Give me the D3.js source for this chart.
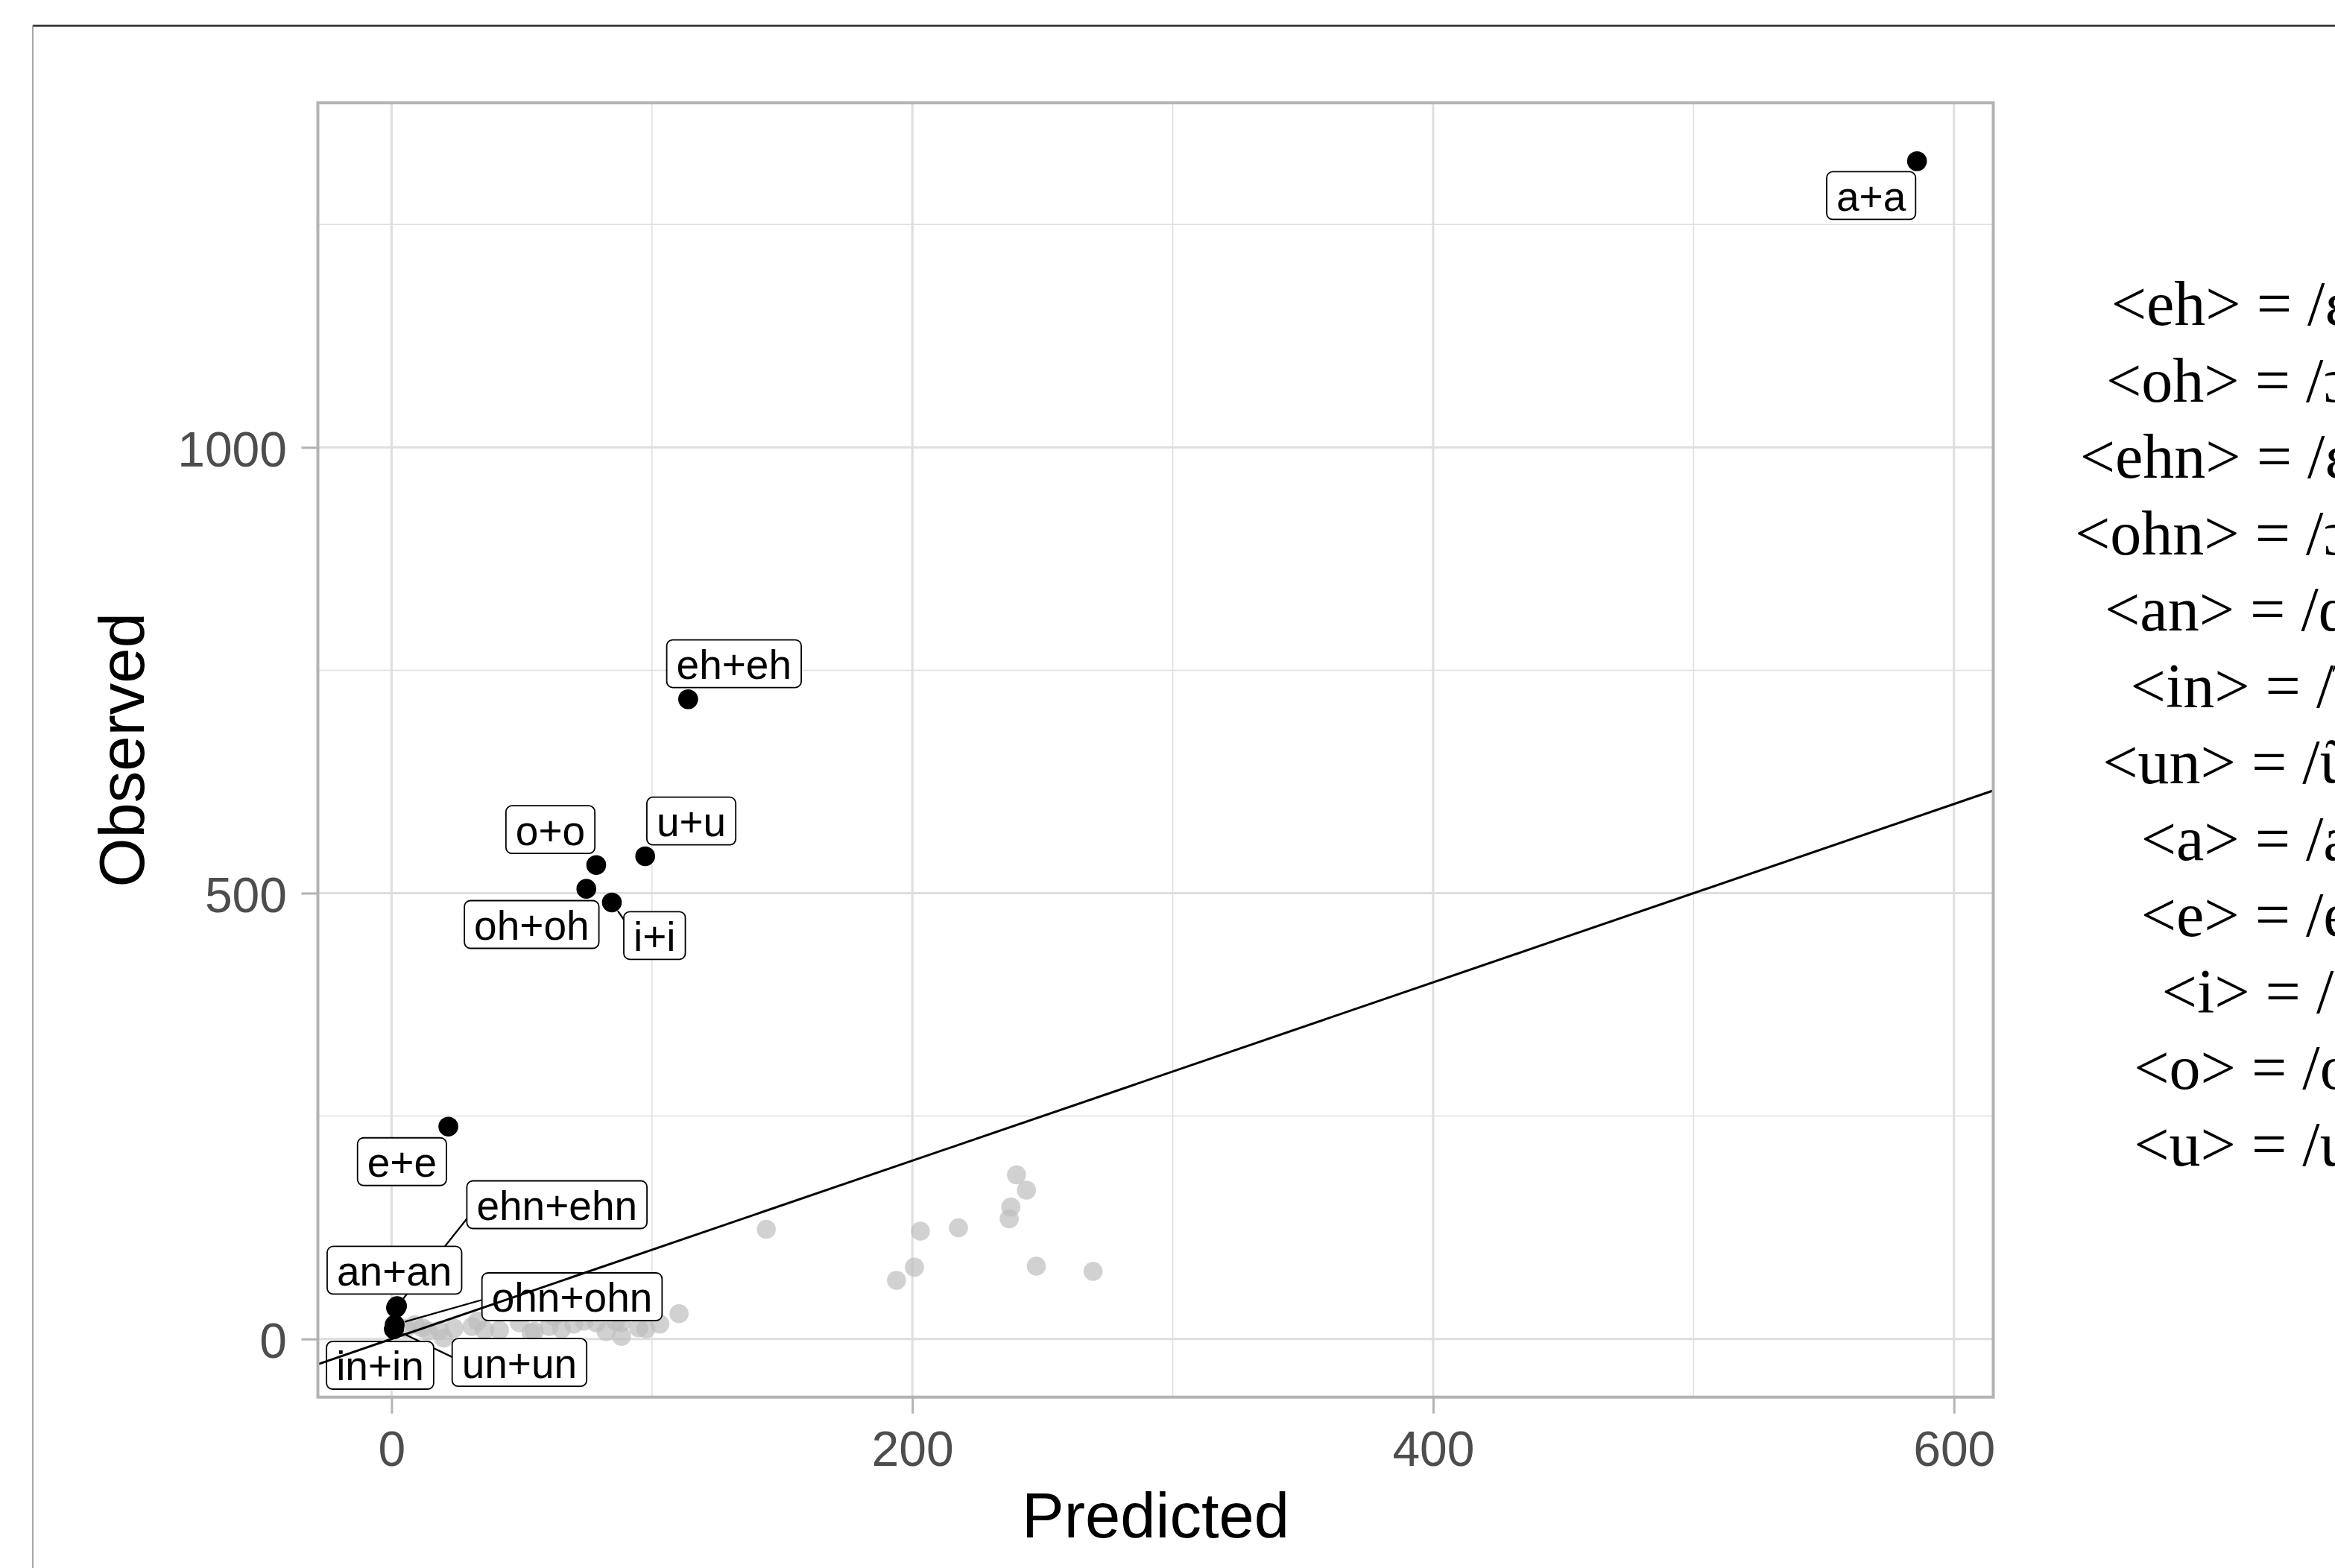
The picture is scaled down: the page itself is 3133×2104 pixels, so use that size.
<!DOCTYPE html>
<html><head><meta charset="utf-8">
<script src="https://cdn.jsdelivr.net/npm/d3@7"></script>
<style>body{margin:0;background:#fff;} svg{display:block}</style>
</head><body><svg id="chart" width="3133" height="2104"></svg>
<script>
// ---------- data ----------
const greyPredicted = [5.5, 9, 11.8, 14, 18.5, 20, 24, 30.9, 33, 35.7, 41.4, 49.1, 53.6, 54.8, 60.5, 62.4, 65.3, 70, 74, 78.6, 82.4, 86, 88.3, 88.2, 94.9, 97.7, 103, 110.4,
  143.9, 193.9, 200.8, 203.1, 217.7, 237.2, 237.8, 240, 243.8, 247.6, 269.4];
const greyObserved = [12, 16, 12.5, 9, 9.8, 1, 12, 14, 20, 9.8, 9.8, 18.1, 7, 8.4, 14, 25, 11.2, 16.7, 20, 18.1, 8.4, 20, 3, 18.1, 12.5, 11.2, 16.7, 28.4,
  123, 65.8, 80.5, 121, 124.7, 134.8, 148, 184.1, 166.9, 81.7, 75.8];

const labelNames     = ["a+a", "eh+eh", "u+u", "o+o", "oh+oh", "i+i", "e+e", "ehn+ehn", "an+an", "ohn+ohn", "in+in", "un+un"];
const labelPredicted = [585.8, 113.9, 97.4, 78.6, 74.8, 84.6, 21.8, 1.7, 2.1, 1.2, 1.0, 0.9];
const labelObserved  = [1321, 717.5, 541.4, 531.6, 504.9, 489.6, 238.2, 35, 37, 16, 12, 11];
// repelled label placement (data units)
const labelAtPredicted = [568.2, 131.5, 115.1, 61.0, 53.8, 101.0, 4.0, 63.5, 1.1, 69.3, -4.4, 49.1];
const labelAtObserved  = [1282.4, 757.4, 580.9, 571.3, 464.9, 452.5, 198.9, 150.6, 77.1, 47.4, -29.5, -26.3];

const xTicks = [0, 200, 400, 600];
const xMinor = [100, 300, 500];
const yTicks = [0, 500, 1000];
const yMinor = [250, 750, 1250];

const keyLines = ["<eh> = /ɛ/", "<oh> = /ɔ/", "<ehn> = /ɛ̃/", "<ohn> = /ɔ̃/", "<an> = /ɑ̃/", "<in> = /ĩ/",
  "<un> = /ũ/", "<a> = /a/", "<e> = /e/", "<i> = /i/", "<o> = /o/", "<u> = /u/"];

// ---------- layout ----------
const W = 3133, H = 2104;
const P = {l: 426.5, r: 2674.5, t: 138, b: 1874.7};
const sans = "'Liberation Sans', Arimo, Arial, Helvetica, sans-serif";
const serif = "'Liberation Serif', 'Times New Roman', Times, serif";

const x = d3.scaleLinear().domain([-28.3, 615.1]).range([P.l, P.r]);
const y = d3.scaleLinear().domain([-65.2, 1386.4]).range([P.b, P.t]);

const svg = d3.select("#chart");
svg.append("rect").attr("width", W).attr("height", H).attr("fill", "#fff");

// outer frame
svg.append("line").attr("x1", 44).attr("x2", W).attr("y1", 34.5).attr("y2", 34.5)
  .attr("stroke", "#2a2a2a").attr("stroke-width", 2.5);
svg.append("line").attr("x1", 44).attr("x2", 44).attr("y1", 34).attr("y2", H)
  .attr("stroke", "#8a8a8a").attr("stroke-width", 1.5);

svg.append("defs").append("clipPath").attr("id", "pc").append("rect")
  .attr("x", P.l).attr("y", P.t).attr("width", P.r - P.l).attr("height", P.b - P.t);

// grid
const grid = svg.append("g").attr("clip-path", "url(#pc)");
grid.selectAll(".vmin").data(xMinor).join("line")
  .attr("x1", d => x(d)).attr("x2", d => x(d)).attr("y1", P.t).attr("y2", P.b)
  .attr("stroke", "#dedede").attr("stroke-width", 1.5);
grid.selectAll(".hmin").data(yMinor).join("line")
  .attr("y1", d => y(d)).attr("y2", d => y(d)).attr("x1", P.l).attr("x2", P.r)
  .attr("stroke", "#dedede").attr("stroke-width", 1.5);
grid.selectAll(".vmaj").data(xTicks).join("line")
  .attr("x1", d => x(d)).attr("x2", d => x(d)).attr("y1", P.t).attr("y2", P.b)
  .attr("stroke", "#dedede").attr("stroke-width", 3);
grid.selectAll(".hmaj").data(yTicks).join("line")
  .attr("y1", d => y(d)).attr("y2", d => y(d)).attr("x1", P.l).attr("x2", P.r)
  .attr("stroke", "#dedede").attr("stroke-width", 3);

// points
const pts = svg.append("g").attr("clip-path", "url(#pc)");
pts.selectAll(".g").data(greyPredicted.map((v, i) => [v, greyObserved[i]])).join("circle")
  .attr("cx", d => x(d[0])).attr("cy", d => y(d[1])).attr("r", 12.8)
  .attr("fill", "#bebebe").attr("fill-opacity", 0.7);
pts.selectAll(".b").data(labelPredicted.map((v, i) => [v, labelObserved[i]])).join("circle")
  .attr("cx", d => x(d[0])).attr("cy", d => y(d[1])).attr("r", 13.3)
  .attr("fill", "#000");

// labels
const segG = svg.append("g");
const boxG = svg.append("g");
labelNames.forEach((name, i) => {
  const px = x(labelPredicted[i]), py = y(labelObserved[i]);
  const cx = x(labelAtPredicted[i]), cy = y(labelAtObserved[i]);
  const g = boxG.append("g");
  const rect = g.append("rect");
  const t = g.append("text").attr("x", cx).attr("y", cy + 20.5)
    .attr("text-anchor", "middle").attr("font-family", sans).attr("font-size", 55)
    .attr("fill", "#000").text(name);
  const tw = t.node().getComputedTextLength();
  const w = tw + 26, h = 64;
  const x0 = cx - w / 2, x1 = cx + w / 2, y0 = cy - h / 2, y1 = cy + h / 2;
  rect.attr("x", x0).attr("y", y0).attr("width", w).attr("height", h)
    .attr("rx", 8).attr("ry", 8).attr("fill", "#fff").attr("stroke", "#000").attr("stroke-width", 1.8);
  // segment when the label sits away from its point
  const qx = Math.max(x0, Math.min(x1, px)), qy = Math.max(y0, Math.min(y1, py));
  const dist = Math.hypot(qx - px, qy - py);
  if (dist > 19) {
    const tx = Math.max(x0 + 15, Math.min(x1 - 15, px)), ty = cy;
    const dx = tx - px, dy = ty - py, L = Math.hypot(dx, dy);
    segG.append("line")
      .attr("x1", px + dx / L * 14).attr("y1", py + dy / L * 14)
      .attr("x2", tx).attr("y2", ty)
      .attr("stroke", "#000").attr("stroke-width", 2.3);
  }
});

// y = x reference line on top
svg.append("g").attr("clip-path", "url(#pc)").append("line")
  .attr("x1", x(x.domain()[0])).attr("y1", y(x.domain()[0]))
  .attr("x2", x(x.domain()[1])).attr("y2", y(x.domain()[1]))
  .attr("stroke", "#000").attr("stroke-width", 3);

// panel border
svg.append("rect").attr("x", P.l).attr("y", P.t).attr("width", P.r - P.l).attr("height", P.b - P.t)
  .attr("fill", "none").attr("stroke", "#b3b3b3").attr("stroke-width", 4);

// axes
const xAxis = svg.append("g").attr("transform", `translate(0,${P.b})`)
  .call(d3.axisBottom(x).tickValues(xTicks).tickFormat(d3.format("d")).tickSize(22).tickPadding(23.4));
const yAxis = svg.append("g").attr("transform", `translate(${P.l},0)`)
  .call(d3.axisLeft(y).tickValues(yTicks).tickFormat(d3.format("d")).tickSize(22).tickPadding(19.5));
[xAxis, yAxis].forEach(a => {
  a.select(".domain").remove();
  a.selectAll(".tick line").attr("stroke", "#b3b3b3").attr("stroke-width", 3);
  a.selectAll(".tick text").attr("fill", "#4d4d4d").attr("font-family", sans).attr("font-size", 66);
});
yAxis.selectAll(".tick text").attr("dy", "0.38em");

// axis titles
svg.append("text").attr("x", (P.l + P.r) / 2).attr("y", 2063).attr("text-anchor", "middle")
  .attr("font-family", sans).attr("font-size", 85).attr("fill", "#000").text("Predicted");
svg.append("text").attr("transform", `translate(193,${(P.t + P.b) / 2}) rotate(-90)`)
  .attr("text-anchor", "middle").attr("font-family", sans).attr("font-size", 85)
  .attr("fill", "#000").text("Observed");

// key text on the right (runs past the right edge, as in the original)
svg.append("g").selectAll("text").data(keyLines).join("text")
  .attr("x", 3178).attr("y", (d, i) => 436 + i * 102.5)
  .attr("text-anchor", "end").attr("font-family", serif).attr("font-size", 84)
  .attr("fill", "#000").text(d => d);
</script></body></html>
